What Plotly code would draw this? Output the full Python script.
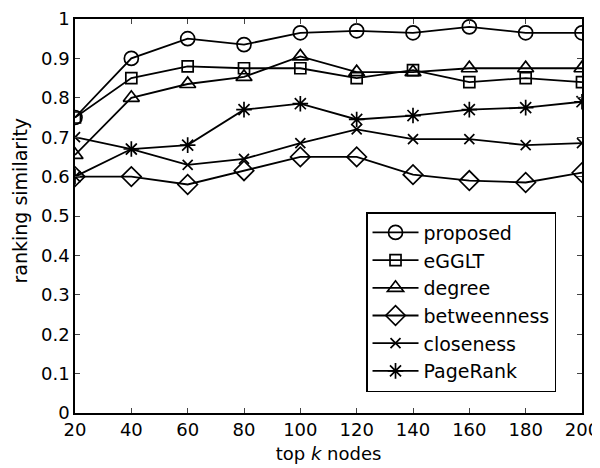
import plotly.graph_objects as go

k_values = [20, 40, 60, 80, 100, 120, 140, 160, 180, 200]
proposed = [0.75, 0.90, 0.95, 0.935, 0.965, 0.97, 0.965, 0.98, 0.965, 0.965]
egglt = [0.75, 0.85, 0.88, 0.875, 0.875, 0.85, 0.87, 0.84, 0.85, 0.84]
degree = [0.655, 0.80, 0.835, 0.853, 0.905, 0.865, 0.865, 0.875, 0.875, 0.875]
betweenness = [0.60, 0.60, 0.58, 0.615, 0.65, 0.65, 0.605, 0.59, 0.585, 0.61]
closeness = [0.70, 0.67, 0.63, 0.645, 0.685, 0.72, 0.695, 0.695, 0.68, 0.685]
pagerank = [0.60, 0.67, 0.68, 0.77, 0.785, 0.745, 0.755, 0.77, 0.775, 0.79]

series_names = ["proposed", "eGGLT", "degree", "betweenness", "closeness", "PageRank"]
series_values = [proposed, egglt, degree, betweenness, closeness, pagerank]
symbols = ["circle-open", "square-open", "triangle-up-open", "diamond-open", "x-thin-open", "asterisk-open"]
sizes = [14, 11, 14, 15, 10, 13]

y_ticks = [0, 0.1, 0.2, 0.3, 0.4, 0.5, 0.6, 0.7, 0.8, 0.9, 1]
y_ticktext = ["0", "0.1", "0.2", "0.3", "0.4", "0.5", "0.6", "0.7", "0.8", "0.9", "1"]

fig = go.Figure()
for i, (name, vals, sym, sz) in enumerate(zip(series_names, series_values, symbols, sizes)):
    fig.add_trace(go.Scatter(
        x=k_values, y=vals, name=name, mode="lines+markers",
        line=dict(color="black", width=1.8),
        marker=dict(symbol=sym, size=sz, color="black", line=dict(color="black", width=1.7)),
        legendgroup=f"g{i}",
    ))

font_family = "DejaVu Sans, Liberation Sans, Arial, sans-serif"
fig.update_layout(
    width=600, height=468,
    margin=dict(l=67, r=26, t=11, b=63, autoexpand=False),
    paper_bgcolor="white", plot_bgcolor="white",
    font=dict(family=font_family, size=18, color="black"),
    showlegend=True,
    legend=dict(
        x=0.574, y=0.51, xanchor="left", yanchor="top",
        bgcolor="white", bordercolor="black", borderwidth=1.5,
        font=dict(size=19, color="black"),
        tracegroupgap=0, itemwidth=46,
        entrywidth=166, entrywidthmode="pixels",
    ),
    xaxis=dict(
        range=[20, 200], tickvals=k_values, ticks="inside", ticklen=5,
        showline=True, linecolor="black", linewidth=1.5, mirror="allticks",
        showgrid=False, zeroline=False, automargin=False,
        ticklabeloverflow="allow",
        title=dict(text="top <i>k</i> nodes", font=dict(size=18), standoff=8),
        tickfont=dict(size=18),
    ),
    yaxis=dict(
        range=[0, 1], tickvals=y_ticks, ticktext=y_ticktext, ticks="inside", ticklen=5,
        showline=True, linecolor="black", linewidth=1.5, mirror="allticks",
        showgrid=False, zeroline=False, automargin=False,
        ticklabeloverflow="allow",
        tickfont=dict(size=18),
    ),
    annotations=[dict(
        text="ranking similarity", textangle=-90, showarrow=False,
        xref="paper", yref="paper", x=-0.108, y=0.54,
        xanchor="center", yanchor="middle", font=dict(size=19, color="black"),
    )],
)

fig.write_html("out.html")
